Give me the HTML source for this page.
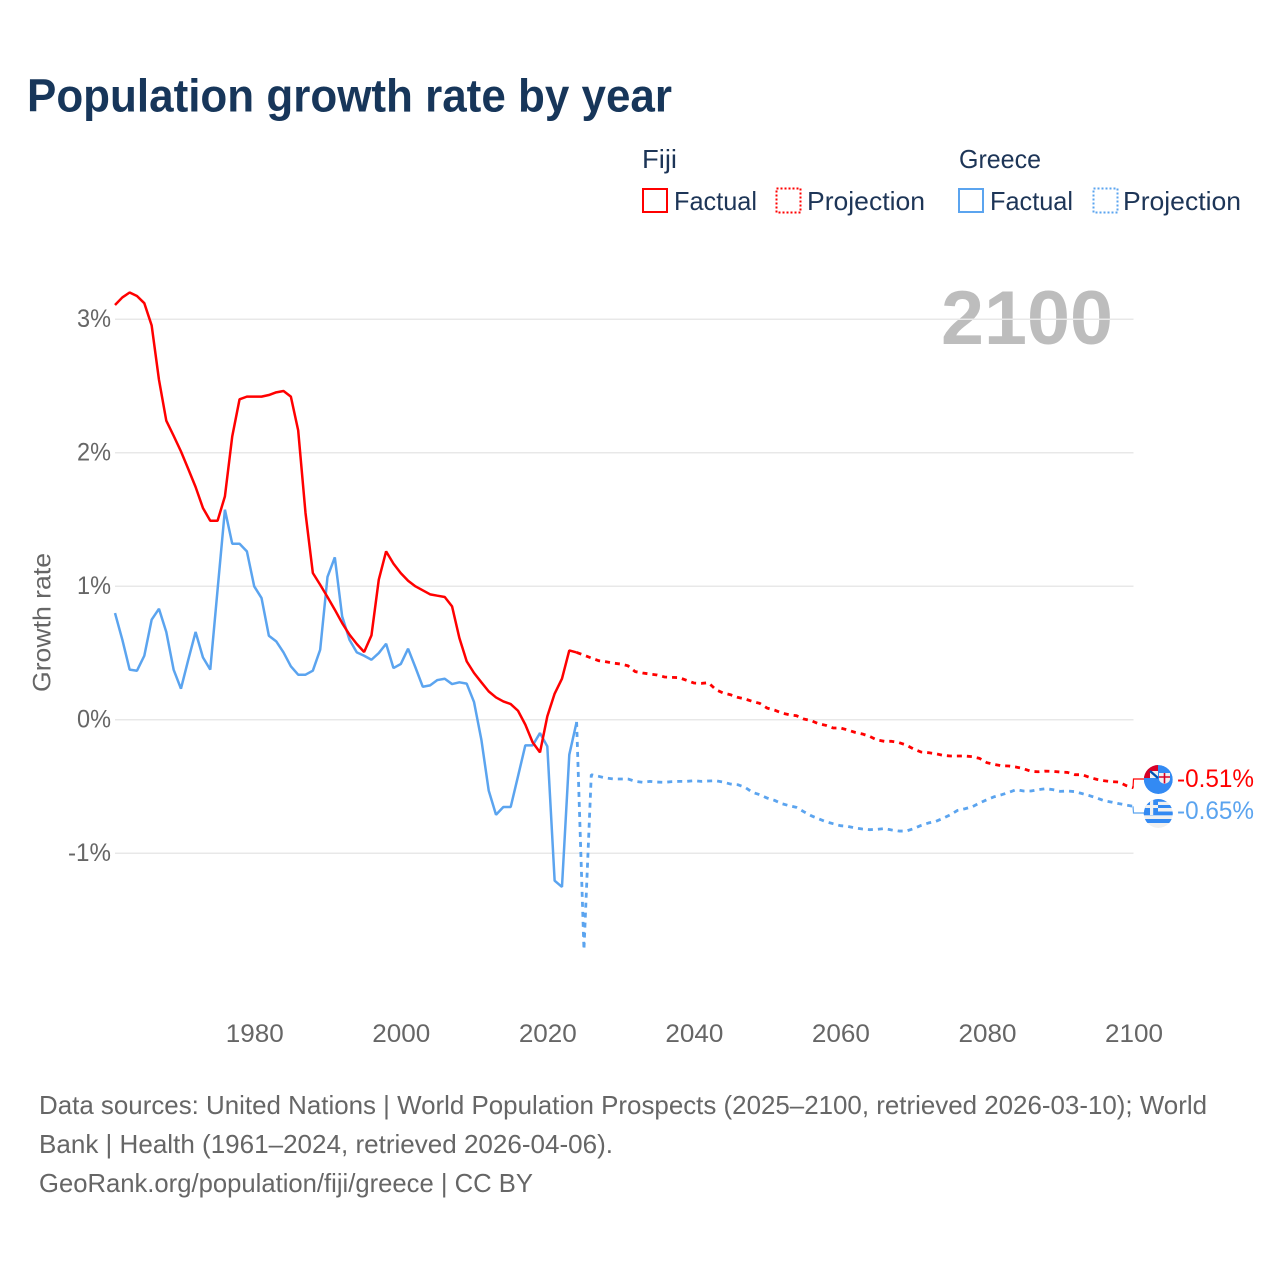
<!DOCTYPE html>
<html lang="en">
<head>
<meta charset="utf-8">
<title>Population growth rate by year</title>
<style>
html,body{margin:0;padding:0;background:#fff;}
svg{display:block;font-family:"Liberation Sans",sans-serif;}
</style>
</head>
<body>
<svg id="chart" width="1280" height="1280" viewBox="0 0 1280 1280" xmlns="http://www.w3.org/2000/svg">
  <defs>
    <clipPath id="flag-clip-fiji"><circle cx="1158.3" cy="779.5" r="14.5"/></clipPath>
    <clipPath id="flag-clip-greece"><circle cx="1158.3" cy="813.5" r="14.5"/></clipPath>
  </defs>
  <rect width="1280" height="1280" fill="#fff"/>
  <text x="27" y="111.5" font-size="46" font-weight="700" fill="#17365a" textLength="645" lengthAdjust="spacingAndGlyphs">Population growth rate by year</text>

  <g font-size="26" fill="#1d3557">
    <text x="642" y="168" textLength="35" lengthAdjust="spacingAndGlyphs">Fiji</text>
    <text x="959" y="168" textLength="82" lengthAdjust="spacingAndGlyphs">Greece</text>
    <rect x="643" y="189" width="24" height="23" fill="none" stroke="#ff0000" stroke-width="2"/>
    <text x="674" y="210" textLength="83" lengthAdjust="spacingAndGlyphs">Factual</text>
    <rect x="776.5" y="188.5" width="24" height="24" fill="none" stroke="#ff0000" stroke-width="2" stroke-dasharray="2 2"/>
    <text x="807" y="210" textLength="118" lengthAdjust="spacingAndGlyphs">Projection</text>
    <rect x="959" y="189" width="24" height="23" fill="none" stroke="#5ba4ef" stroke-width="2"/>
    <text x="990" y="210" textLength="83" lengthAdjust="spacingAndGlyphs">Factual</text>
    <rect x="1093.5" y="188.5" width="24" height="24" fill="none" stroke="#5ba4ef" stroke-width="2" stroke-dasharray="2 2"/>
    <text x="1123" y="210" textLength="118" lengthAdjust="spacingAndGlyphs">Projection</text>
  </g>

  <text x="941" y="344" font-size="76" font-weight="700" fill="#bdbdbd" textLength="172" lengthAdjust="spacingAndGlyphs">2100</text>
  <text transform="translate(50.5 622.5) rotate(-90)" text-anchor="middle" font-size="25" fill="#666" textLength="139" lengthAdjust="spacingAndGlyphs">Growth rate</text>

  <g id="grid"></g>
  <g id="y-ticks" font-size="25" fill="#666" text-anchor="end"></g>
  <g id="x-ticks" font-size="25" fill="#666" text-anchor="middle"></g>
  <g id="series"></g>
  <g id="leaders"></g>

  <g clip-path="url(#flag-clip-fiji)">
    <circle cx="1158.3" cy="779.5" r="14.5" fill="#338af3"/>
    <rect x="1143" y="764" width="15" height="14" fill="#d80027"/>
    <path d="M1150 771h8v7h-8z" fill="#f0f0f0"/>
    <path d="M1150 771l8 7" stroke="#0052b4" stroke-width="2.4" fill="none"/>
    <path d="M1159 773h11v6q0 3.5-5.5 5q-5.500-1.500-5.500-5z" fill="#f0f0f0"/>
    <path d="M1164.500 773v10.500M1159 777h11" stroke="#d80027" stroke-width="1.600" fill="none"/>
  </g>
  <g clip-path="url(#flag-clip-greece)">
    <circle cx="1158.3" cy="813.500" r="14.500" fill="#f0f0f0"/>
    <rect x="1158" y="799" width="15" height="2.800" fill="#338af3"/>
    <rect x="1158" y="805" width="15" height="3" fill="#338af3"/>
    <rect x="1143" y="811.500" width="31" height="3.800" fill="#338af3"/>
    <rect x="1143" y="819" width="31" height="4" fill="#338af3"/>
    <rect x="1143" y="798" width="15" height="17" fill="#338af3"/>
    <rect x="1150" y="798" width="3.200" height="17" fill="#f0f0f0"/>
    <rect x="1143" y="805" width="15" height="3" fill="#f0f0f0"/>
  </g>

  <text id="label-fiji" x="1177" y="787" font-size="25" fill="#ff0000" textLength="77" lengthAdjust="spacingAndGlyphs"></text>
  <text id="label-greece" x="1177" y="819" font-size="25" fill="#5ba4ef" textLength="77" lengthAdjust="spacingAndGlyphs"></text>

  <g font-size="26" fill="#666">
    <text x="39" y="1114" textLength="1168" lengthAdjust="spacingAndGlyphs">Data sources: United Nations | World Population Prospects (2025–2100, retrieved 2026-03-10); World</text>
    <text x="39" y="1153" textLength="574" lengthAdjust="spacingAndGlyphs">Bank | Health (1961–2024, retrieved 2026-04-06).</text>
    <text x="39" y="1192" textLength="494" lengthAdjust="spacingAndGlyphs">GeoRank.org/population/fiji/greece | CC BY</text>
  </g>
</svg>
<script>
const xTickYears = [1980, 2000, 2020, 2040, 2060, 2080, 2100];
const yTickValues = [3, 2, 1, 0, -1];
const factualStartYear = 1961;
const projectionStartYear = 2024;

const fijiFactual = [3.106,3.163,3.2,3.174,3.12,2.954,2.547,2.24,2.127,2.01,1.878,1.743,1.586,1.49,1.49,1.673,2.122,2.4,2.42,2.42,2.42,2.432,2.452,2.462,2.42,2.167,1.548,1.099,1.011,0.919,0.824,0.724,0.637,0.567,0.507,0.632,1.049,1.261,1.169,1.098,1.041,0.999,0.969,0.939,0.929,0.919,0.849,0.612,0.437,0.35,0.28,0.212,0.167,0.137,0.117,0.067,-0.037,-0.17,-0.245,0.025,0.195,0.307,0.519,0.504];

const greeceFactual = [0.799,0.599,0.375,0.367,0.479,0.749,0.831,0.657,0.375,0.232,0.449,0.657,0.467,0.375,0.974,1.573,1.318,1.318,1.261,0.999,0.911,0.629,0.587,0.504,0.4,0.337,0.337,0.367,0.524,1.069,1.216,0.774,0.599,0.504,0.479,0.449,0.499,0.569,0.387,0.417,0.532,0.392,0.247,0.257,0.297,0.307,0.267,0.28,0.27,0.132,-0.15,-0.53,-0.712,-0.654,-0.654,-0.424,-0.192,-0.192,-0.1,-0.2,-1.206,-1.253,-0.262,-0.017];

const fijiProjection = [0.504,0.484,0.462,0.442,0.434,0.424,0.417,0.404,0.36,0.35,0.342,0.335,0.32,0.317,0.315,0.295,0.275,0.272,0.277,0.225,0.2,0.187,0.167,0.155,0.137,0.122,0.087,0.072,0.05,0.037,0.03,0.005,-0.007,-0.03,-0.042,-0.062,-0.062,-0.077,-0.095,-0.107,-0.125,-0.152,-0.162,-0.162,-0.172,-0.19,-0.22,-0.242,-0.247,-0.255,-0.267,-0.272,-0.272,-0.272,-0.277,-0.29,-0.322,-0.335,-0.345,-0.347,-0.355,-0.367,-0.387,-0.39,-0.385,-0.387,-0.392,-0.395,-0.412,-0.412,-0.432,-0.447,-0.457,-0.464,-0.467,-0.494,-0.51];

const greeceProjection = [-0.017,-1.723,-0.412,-0.424,-0.437,-0.444,-0.444,-0.444,-0.462,-0.469,-0.462,-0.467,-0.469,-0.464,-0.462,-0.462,-0.457,-0.462,-0.459,-0.457,-0.467,-0.482,-0.487,-0.507,-0.544,-0.562,-0.587,-0.604,-0.629,-0.644,-0.657,-0.689,-0.719,-0.742,-0.764,-0.779,-0.794,-0.799,-0.811,-0.819,-0.824,-0.821,-0.816,-0.826,-0.834,-0.834,-0.816,-0.792,-0.774,-0.762,-0.739,-0.712,-0.679,-0.667,-0.652,-0.624,-0.599,-0.577,-0.562,-0.544,-0.524,-0.534,-0.534,-0.524,-0.517,-0.524,-0.537,-0.534,-0.539,-0.554,-0.569,-0.587,-0.607,-0.617,-0.629,-0.639,-0.649];

const SVG_NS = 'http://www.w3.org/2000/svg';
const plotLeft = 115, plotRight = 1133.5;
const xScale = year => plotLeft + (year - 1961) * (plotRight - plotLeft) / (2100 - 1961);
const yScale = value => 719.7 - value * 133.5;

function pointsFor(values, startYear) {
  return values.map((v, i) => xScale(startYear + i).toFixed(2) + ',' + yScale(v).toFixed(2)).join(' ');
}

const gridGroup = document.getElementById('grid');
const yTickGroup = document.getElementById('y-ticks');
yTickValues.forEach(v => {
  const line = document.createElementNS(SVG_NS, 'line');
  
  
  line.setAttribute('x1', plotLeft);
  line.setAttribute('x2', plotRight);
  line.setAttribute('y1', yScale(v));
  line.setAttribute('y2', yScale(v));
  line.setAttribute('stroke', '#e8e8e8');
  line.setAttribute('stroke-width', '1.5');
  gridGroup.appendChild(line);
  const label = document.createElementNS(SVG_NS, 'text');
  
  
  label.setAttribute('x', 111);
  label.setAttribute('y', yScale(v) + 8);
  label.setAttribute('textLength', v < 0 ? 43 : 34);
  label.setAttribute('lengthAdjust', 'spacingAndGlyphs');
  label.textContent = v + '%';
  yTickGroup.appendChild(label);
});

const xTickGroup = document.getElementById('x-ticks');
xTickYears.forEach(year => {
  const label = document.createElementNS(SVG_NS, 'text');
  
  
  label.setAttribute('x', xScale(year) + 0.5);
  label.setAttribute('y', 1042);
  label.setAttribute('textLength', 58);
  label.setAttribute('lengthAdjust', 'spacingAndGlyphs');
  label.textContent = year;
  xTickGroup.appendChild(label);
});

const seriesGroup = document.getElementById('series');
function drawLine(values, startYear, color, dash, name) {
  const line = document.createElementNS(SVG_NS, 'polyline');
  
  
  line.setAttribute('points', pointsFor(values, startYear));
  line.setAttribute('fill', 'none');
  line.setAttribute('stroke', color);
  line.setAttribute('stroke-width', dash ? '2.8' : '2.5');
  line.setAttribute('stroke-linejoin', 'bevel');
  if (dash) line.setAttribute('stroke-dasharray', dash);
  seriesGroup.appendChild(line);
}
drawLine(greeceProjection, projectionStartYear, '#5ba4ef', '5 5', 'line-greece-projection');
drawLine(fijiProjection, projectionStartYear, '#ff0000', '5 5', 'line-fiji-projection');
drawLine(greeceFactual, factualStartYear, '#5ba4ef', null, 'line-greece-factual');
drawLine(fijiFactual, factualStartYear, '#ff0000', null, 'line-fiji-factual');

const leaderGroup = document.getElementById('leaders');
function drawLeader(lastValue, labelY, color, name) {
  const y0 = yScale(lastValue);
  const leader = document.createElementNS(SVG_NS, 'polyline');
  
  
  leader.setAttribute('points', '1133,' + y0.toFixed(1) + ' 1133.5,' + labelY + ' 1150,' + labelY);
  leader.setAttribute('fill', 'none');
  leader.setAttribute('stroke', color);
  leader.setAttribute('stroke-width', '1.2');
  leaderGroup.appendChild(leader);
}
const fijiLast = fijiProjection[fijiProjection.length - 1];
const greeceLast = greeceProjection[greeceProjection.length - 1];
drawLeader(fijiLast, 779, '#ff0000', 'leader-fiji');
drawLeader(greeceLast, 813, '#5ba4ef', 'leader-greece');

document.getElementById('label-fiji').textContent = fijiLast.toFixed(2) + '%';
document.getElementById('label-greece').textContent = greeceLast.toFixed(2) + '%';
</script>
</body>
</html>
